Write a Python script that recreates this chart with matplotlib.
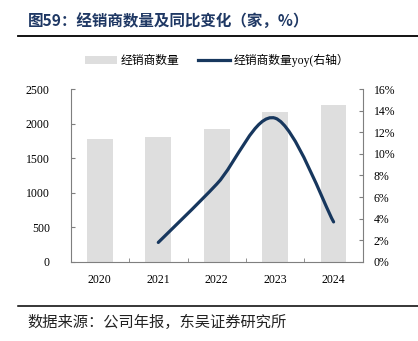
import matplotlib.pyplot as plt
from matplotlib.path import Path
from matplotlib.patches import PathPatch, Patch
from matplotlib.lines import Line2D

# 数据
years = ["2020", "2021", "2022", "2023", "2024"]
dealers = [1773, 1802, 1922, 2172, 2264]
yoy_years = [1, 2, 3, 4]          # 2021-2024 对应的位置
yoy = [1.8, 7.2, 13.3, 3.7]       # 同比(%)
left_ticks = [0, 500, 1000, 1500, 2000, 2500]
right_ticks = [0, 2, 4, 6, 8, 10, 12, 14, 16]

cjk = ["Noto Sans CJK SC", "DejaVu Sans"]
serif = ["Liberation Serif", "Noto Sans CJK SC"]
plt.rcParams["font.family"] = serif

bar_color = "#dedede"
line_color = "#17375e"
spine_color = "#7f7f7f"

fig = plt.figure(figsize=(4.18, 3.41), dpi=100)
ax = fig.add_axes([0.169, 0.232, 0.699, 0.507])
ax2 = ax.twinx()

x = list(range(len(years)))
ax.bar(x, dealers, width=0.44, color=bar_color, zorder=1)
ax.set_xlim(-0.5, 4.5)
ax.set_ylim(0, 2500)
ax.set_yticks(left_ticks)
ax.set_yticklabels([str(v) for v in left_ticks])
ax.set_xticks(x)
ax.set_xticklabels(years)
ax.set_xticks([i + 0.5 for i in range(len(years) - 1)], minor=True)

# 平滑曲线（Catmull-Rom 转三次贝塞尔）
pts = list(zip(yoy_years, yoy))
verts = [pts[0]]
codes = [Path.MOVETO]
for i in range(len(pts) - 1):
    p0 = pts[i - 1] if i > 0 else pts[i]
    p1 = pts[i]
    p2 = pts[i + 1]
    p3 = pts[i + 2] if i + 2 < len(pts) else pts[i + 1]
    c1 = (p1[0] + (p2[0] - p0[0]) / 6, p1[1] + (p2[1] - p0[1]) / 6)
    c2 = (p2[0] - (p3[0] - p1[0]) / 6, p2[1] - (p3[1] - p1[1]) / 6)
    verts += [c1, c2, p2]
    codes += [Path.CURVE4] * 3
ax2.add_patch(PathPatch(Path(verts, codes), facecolor="none", edgecolor=line_color,
                        lw=2.3, capstyle="round", zorder=3))
ax2.set_ylim(0, 16)
ax2.set_yticks(right_ticks)
ax2.set_yticklabels([f"{v}%" for v in right_ticks])

for a in (ax, ax2):
    a.spines["top"].set_visible(False)
    for s in ("left", "right", "bottom"):
        a.spines[s].set_color(spine_color)
        a.spines[s].set_linewidth(0.8)
ax.spines["right"].set_visible(False)
ax2.spines["left"].set_visible(False)
ax2.spines["bottom"].set_visible(False)

ax.tick_params(axis="y", direction="in", length=3, color=spine_color, pad=15, labelsize=8.5)
ax.tick_params(axis="x", which="major", length=0, pad=9, labelsize=8.5)
ax.tick_params(axis="x", which="minor", direction="in", length=3, color=spine_color)
ax2.tick_params(axis="y", direction="in", length=3, color=spine_color, pad=8, labelsize=8.5)

# 图例
handles = [Patch(facecolor=bar_color, edgecolor="none"),
           Line2D([], [], color=line_color, lw=2.3)]
leg = fig.legend(handles, ["经销商数量", "经销商数量yoy(右轴）"], ncol=2,
                 loc="center", bbox_to_anchor=(0.52, 0.822), frameon=False,
                 handlelength=2.7, handleheight=0.75, handletextpad=0.3,
                 columnspacing=1.6, prop={"family": serif, "size": 8.5})

# 标题与来源
fig.text(0.067, 0.94, "图59：经销商数量及同比变化（家，%）", family=cjk,
         fontsize=11.2, fontweight="bold", color="#1f3864", va="center")
fig.add_artist(Line2D([0.043, 1.0], [0.894, 0.894], color="black", lw=1.3))
fig.add_artist(Line2D([0.043, 1.0], [0.104, 0.104], color="black", lw=1.1))
fig.text(0.065, 0.053, "数据来源：公司年报，东吴证券研究所", family=cjk,
         fontsize=11, color="#222222", va="center")

fig.savefig("out.png", dpi=100)
